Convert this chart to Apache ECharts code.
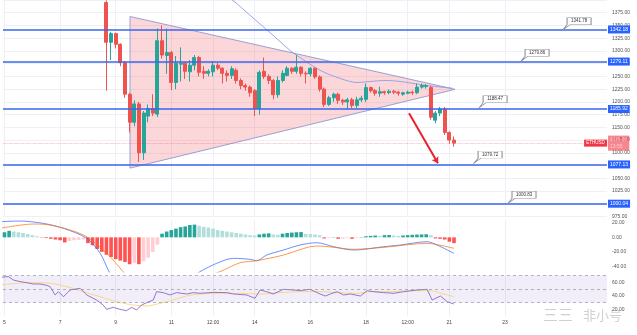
<!DOCTYPE html>
<html><head><meta charset="utf-8">
<script src="https://cdn.jsdelivr.net/npm/echarts@6/dist/echarts.min.js"></script>
<style>html,body{margin:0;padding:0;background:#fff}#c{width:637px;height:335px}</style>
</head><body><div id="c"></div>
<script>
// ---- candles (4h), ETHUSD ----
const candleStartDay = 8 + 16 / 24;
const candleStepDays = 4 / 24;
const opens  = [1395,1317,1334,1313,1277,1215,1160,1196,1100,1172,1187,1176,1320,1291,1297,1238,1274,1276,1259,1272,1287,1260,1256,1259,1272,1266,1256,1252,1262,1242,1232,1229,1222,1187,1260,1250,1242,1214,1242,1252,1266,1260,1268,1256,1255,1266,1249,1225,1195,1208,1215,1203,1200,1204,1193,1204,1205,1228,1222,1217,1220,1218,1221,1219,1215,1217,1219,1218,1229,1230,1228,1164,1178,1186,1140,1125];
const closes = [1317,1334,1313,1277,1215,1160,1196,1100,1178,1187,1178,1320,1292,1297,1238,1276,1276,1260,1272,1287,1258,1256,1260,1272,1266,1256,1252,1265,1242,1232,1229,1218,1187,1258,1250,1242,1214,1242,1256,1266,1260,1268,1256,1255,1266,1249,1225,1195,1208,1215,1203,1200,1204,1193,1204,1207,1228,1222,1217,1220,1218,1221,1219,1217,1218,1219,1218,1229,1232,1232,1170,1178,1186,1140,1125,1119];
const lows   = [1222,1282,1305,1270,1208,1140,1152,1082,1086,1160,1172,1170,1285,1255,1223,1225,1240,1245,1240,1262,1250,1245,1250,1250,1262,1236,1240,1245,1236,1225,1222,1210,1172,1175,1245,1235,1205,1208,1238,1250,1255,1255,1250,1236,1250,1245,1220,1190,1192,1200,1196,1194,1185,1188,1188,1200,1200,1218,1212,1210,1214,1215,1215,1212,1212,1215,1214,1215,1226,1226,1165,1158,1172,1135,1118,1112];
const highs  = [1399,1337,1336,1315,1280,1218,1203,1200,1182,1195,1215,1344,1350,1344,1300,1290,1307,1278,1282,1292,1290,1270,1264,1280,1276,1268,1262,1270,1266,1246,1236,1232,1225,1262,1287,1254,1245,1250,1262,1270,1268,1292,1270,1260,1268,1268,1252,1228,1212,1218,1218,1206,1208,1208,1210,1212,1236,1230,1225,1230,1222,1224,1223,1222,1220,1222,1222,1236,1236,1235,1232,1182,1190,1190,1142,1132];

// moving average drawn on price pane [day, price]
const maLine = [[12.9,1410],[13.22,1399],[13.83,1370],[14.55,1336],[15.27,1301],[15.63,1287],[16.35,1262],[17.07,1246],[17.68,1238],[18.15,1240],[18.69,1242],[19.23,1240],[19.95,1234],[20.67,1229],[21.10,1227]];

// drawings
const priceLevels = [1342.18, 1279.11, 1185.92, 1077.13, 1000.04];
const noteValues = [1341.78, 1279.86, 1188.47, 1079.72, 1000.83];
const noteDays   = [25.09, 23.58, 22.07, 21.89, 23.11];
const triangleDays   = [9.514, 21.205, 9.514];
const trianglePrices = [1367.6, 1224.6, 1069.9];
const arrowDays   = [19.55, 20.59];
const arrowPrices = [1177.6, 1079.7];
const symbolName = 'ETHUSD';
const currentPrice = 1119.00;
const currentTime = '13:55';
const symbolLabelDay = 26.26;

// MACD
const macdHistStartDay = 5;
const macdHist = [7,9,8,7,6,4.5,3,1.5,-0.5,-1,-2,-3,-4,-7,-5,-4,-3.5,-3,-8,-11,-16,-20,-24,-27,-30,-32,-34,-37,-35,-37,-33,-28,-20,-10,5,8,10,12,14,15,17,17.5,16,14.5,13.5,12,10,9,8,7,6,5,4,3,2.5,4,5,5.5,4,3.5,5,6,6.5,7,7.2,5,4.5,4,3,-1.5,-1,0.5,-2,-2,-1,-2,-1,0.5,1.5,2,2.5,2,3,3.2,2.5,2,2.5,3,3.5,3.8,4,4.2,3,-1.5,-2,-3,-6,-8];
const macdLine = [[4.84,21.5],[5.56,22.4],[6.40,19.2],[7.12,12.4],[7.96,-1.4],[8.44,-22],[8.73,-45],[8.86,-54],[9.3,-72],[10.0,-85],[11.0,-72],[11.7,-56],[12.03,-47.3],[12.63,-35.8],[13.23,-28.9],[13.83,-30.3],[14.07,-32.2],[14.43,-24.4],[15.03,-17.5],[15.63,-10.6],[16.23,-7.4],[16.84,-12.9],[17.56,-17.5],[18.64,-12.9],[19.24,-10.6],[20.20,-6.0],[20.56,-10.6],[21.16,-22]];
const signalLine = [[4.84,12.4],[6.04,18.3],[6.64,16.9],[7.84,3.2],[8.68,-22],[9.27,-47.3],[9.5,-56],[10.2,-68],[11.2,-70],[12.1,-56],[12.75,-47.3],[13.47,-35],[14.07,-32.2],[15.03,-24.4],[15.99,-12.9],[16.35,-12],[16.84,-13.8],[17.56,-16.5],[18.64,-13.8],[20.20,-8.3],[20.64,-10.6],[21.16,-15.1]];

// RSI
const rsiLine = [[4.84,67.3],[5.14,68.3],[5.32,63.3],[5.56,60.9],[5.80,59.4],[6.04,57.4],[6.28,57.4],[6.52,55.4],[6.64,53.4],[6.82,41.1],[6.94,46.0],[7.12,38.6],[7.36,48.5],[7.72,51.0],[7.96,41.1],[8.31,33.7],[8.55,26.3],[8.67,19.9],[8.91,22.8],[9.15,19.9],[9.39,17.9],[9.57,22.8],[9.75,18.9],[9.93,26.3],[10.11,29.7],[10.35,33.7],[10.47,46.0],[10.71,44.6],[10.95,41.1],[11.19,44.6],[11.55,42.6],[11.79,44.6],[12.03,43.6],[12.51,45.0],[12.99,44.6],[13.23,42.6],[13.71,41.1],[14.01,36.2],[14.19,48.5],[14.43,46.0],[14.67,42.6],[15.03,49.5],[15.39,48.5],[15.63,47.5],[15.99,49.5],[16.35,42.6],[16.54,39.6],[16.72,42.6],[16.96,46.0],[17.2,41.1],[17.44,42.6],[17.8,39.6],[18.04,47.5],[18.28,46.0],[18.64,44.6],[19.0,43.6],[19.36,46.0],[19.84,48.5],[20.2,49.5],[20.38,33.7],[20.68,39.6],[20.92,31.2],[21.16,27.8]];
const rsiMA = [[4.84,55.9],[5.44,58.4],[6.04,59.4],[6.64,58.4],[7.24,53.4],[7.84,46.0],[8.44,38.6],[9.03,31.2],[9.63,26.3],[10.11,24.8],[10.59,28.7],[11.07,33.7],[11.55,39.6],[12.03,42.6],[12.75,43.6],[13.47,43.6],[14.19,42.6],[14.91,44.6],[15.63,46.0],[16.35,46.0],[16.96,44.6],[17.68,43.6],[18.16,46.0],[18.88,46.0],[19.72,47.5],[20.32,47.5],[20.8,42.6],[21.16,38.6]];
const rsiLevels = [70, 50, 30];

// axes
const dayTicks = [5,7,9,11,12.5,14,16,18,19.5,21,23];
const dayTickLabels = ['5','7','9','11','12:00','14','16','18','12:00','21','23'];
const macdTicks = [-40,-20,0,20];
const rsiTicks = [20,40,60];

// ---- build ----
const candleData = opens.map((o, i) => [candleStartDay + i * candleStepDays, o, closes[i], lows[i], highs[i]]);
const histData = macdHist.map((v, i) => {
  const prev = i > 0 ? macdHist[i - 1] : v;
  let c;
  if (v >= 0) c = v >= prev ? '#26a69a' : '#b2dfdb';
  else c = v < prev ? '#ff5252' : '#ffcdd2';
  return { value: [macdHistStartDay + i * candleStepDays, v], itemStyle: { color: c } };
});
const triangle = triangleDays.map((d, i) => [d, trianglePrices[i]]);

const font = 'Liberation Sans, Arial, sans-serif';
const gridLine = { show: true, lineStyle: { color: '#eef0f5', width: 1 } };
const X_MIN = 4.946, X_MAX = 26.67;
function xAxis(idx, showLabels) {
  return {
    type: 'value', gridIndex: idx, min: X_MIN, max: X_MAX,
    axisLine: { show: false }, axisTick: { show: false, customValues: dayTicks },
    splitLine: gridLine,
    axisLabel: {
      show: showLabels, customValues: dayTicks, fontSize: 5, color: '#444', margin: 4, fontFamily: font,
      formatter: v => { const k = dayTicks.indexOf(v); return k >= 0 ? dayTickLabels[k] : ''; }
    }
  };
}
const notePath = 'path://M0,12 L4,7 L4,0 L28,0 L28,7 L7,7 Z';

const option = {
  animation: false,
  backgroundColor: '#fff',
  textStyle: { fontFamily: font },
  grid: [
    { left: 3, width: 604, top: -0.54, height: 217 },
    { left: 3, width: 604, top: 219.9, height: 52.3 },
    { left: 3, width: 604, top: 272.1, height: 43.9 }
  ],
  xAxis: [xAxis(0, false), xAxis(1, false), xAxis(2, true)],
  yAxis: [
    { type: 'value', gridIndex: 0, position: 'right', min: 975, max: 1400, interval: 25,
      axisLine: { show: false }, axisTick: { show: false }, splitLine: gridLine,
      axisLabel: { fontSize: 5, color: '#555', margin: 5, showMaxLabel: false, formatter: v => v.toFixed(2) } },
    { type: 'value', gridIndex: 1, position: 'right', min: -48, max: 24,
      axisLine: { show: false }, axisTick: { show: false }, splitLine: { show: false },
      axisLabel: { fontSize: 5, color: '#555', margin: 5, customValues: macdTicks, formatter: v => v.toFixed(2) } },
    { type: 'value', gridIndex: 2, position: 'right', min: 10, max: 75,
      axisLine: { show: false }, axisTick: { show: false }, splitLine: { show: false },
      axisLabel: { fontSize: 5, color: '#555', margin: 5, customValues: rsiTicks, formatter: v => v.toFixed(2) } }
  ],
  series: [
    { type: 'custom', xAxisIndex: 0, yAxisIndex: 0, data: triangle, encode: { x: 0, y: 1 }, z: 1, silent: true,
      renderItem: (params, api) => {
        if (params.dataIndex !== 0) return null;
        const pts = triangle.map(p => api.coord(p));
        return { type: 'polygon', shape: { points: pts },
          style: { fill: 'rgba(242,54,69,0.2)', stroke: '#9aa0d0', lineWidth: 1 } };
      } },
    { type: 'candlestick', xAxisIndex: 0, yAxisIndex: 0, data: candleData, encode: { x: 0, y: [1, 2, 3, 4] },
      barWidth: 3.5, z: 3,
      itemStyle: { color: '#26a69a', color0: '#ef5350', borderColor: '#26a69a', borderColor0: '#ef5350', borderWidth: 1 },
      markLine: {
        silent: true, symbol: 'none', animation: false,
        data: priceLevels.map(v => ({ yAxis: v,
          lineStyle: { color: '#3a66ec', width: 1.7, type: 'solid' },
          label: { show: true, position: 'end', distance: 1, formatter: v.toFixed(2), backgroundColor: '#2962ff',
            color: '#fff', fontSize: 5, padding: [1.5, 2] } }))
          .concat([{ yAxis: currentPrice,
            lineStyle: { color: '#f23645', width: 0.6, type: 'dotted', opacity: 0.6 },
            label: { show: true, position: 'end', distance: 1, formatter: currentPrice.toFixed(2) + '\n' + currentTime,
              backgroundColor: '#f23645', color: '#fff', fontSize: 5, lineHeight: 6.5, padding: [1, 2] } }])
      },
      markPoint: {
        silent: true, animation: false,
        data: noteValues.map((v, i) => ({ coord: [noteDays[i], v], symbol: notePath, symbolSize: [28, 12], symbolOffset: [14, -6],
          itemStyle: { color: '#fff', borderColor: '#8a8e99', borderWidth: 0.7 },
          label: { show: true, position: 'inside', offset: [2, -2.5], formatter: v.toFixed(2), fontSize: 4.5, color: '#333' } }))
          .concat([{ coord: [symbolLabelDay, currentPrice], symbol: 'rect', symbolSize: [23, 7],
            itemStyle: { color: '#f23645' },
            label: { show: true, position: 'inside', formatter: symbolName, fontSize: 4.5, color: '#fff' } }])
      } },
    { type: 'line', xAxisIndex: 0, yAxisIndex: 0, data: maLine, showSymbol: false, smooth: 0.3, z: 2,
      lineStyle: { color: '#8f9be6', width: 0.9 },
      markLine: { silent: true, symbol: ['none', 'arrow'], symbolSize: 6, animation: false,
        data: [[{ coord: [arrowDays[0], arrowPrices[0]] }, { coord: [arrowDays[1], arrowPrices[1]] }]],
        lineStyle: { color: '#e8222b', width: 2, type: 'solid' }, label: { show: false } } },
    { type: 'bar', xAxisIndex: 1, yAxisIndex: 1, data: histData, barWidth: 3.6 },
    { type: 'line', xAxisIndex: 1, yAxisIndex: 1, data: macdLine, showSymbol: false, smooth: 0.3,
      lineStyle: { color: '#2962ff', width: 0.7 } },
    { type: 'line', xAxisIndex: 1, yAxisIndex: 1, data: signalLine, showSymbol: false, smooth: 0.3,
      lineStyle: { color: '#ff6d00', width: 0.7 } },
    { type: 'line', xAxisIndex: 2, yAxisIndex: 2, data: rsiMA, showSymbol: false, smooth: 0.3,
      lineStyle: { color: '#f5d36a', width: 0.8 } },
    { type: 'line', xAxisIndex: 2, yAxisIndex: 2, data: rsiLine, showSymbol: false,
      lineStyle: { color: '#7e57c2', width: 0.8 },
      markArea: { silent: true, itemStyle: { color: 'rgba(126,87,194,0.1)' }, data: [[{ yAxis: rsiLevels[2] }, { yAxis: rsiLevels[0] }]] },
      markLine: { silent: true, symbol: 'none', animation: false, label: { show: false },
        lineStyle: { color: '#9598a1', width: 0.7, type: [3, 3] },
        data: rsiLevels.map(v => ({ yAxis: v })) } }
  ],
  graphic: [
    { type: 'text', left: 583, top: 309, z: 100, style: { text: '非小号', fontSize: 13, fill: 'rgba(150,150,150,0.45)', fontFamily: 'Noto Sans CJK SC' } },
    { type: 'text', left: 543, top: 307, z: 100, style: { text: '三三', fontSize: 15, fill: 'rgba(150,150,150,0.45)', fontFamily: 'Noto Sans CJK SC' } }
  ]
};
echarts.init(document.getElementById('c'), null, { renderer: 'canvas' }).setOption(option);
</script></body></html>
